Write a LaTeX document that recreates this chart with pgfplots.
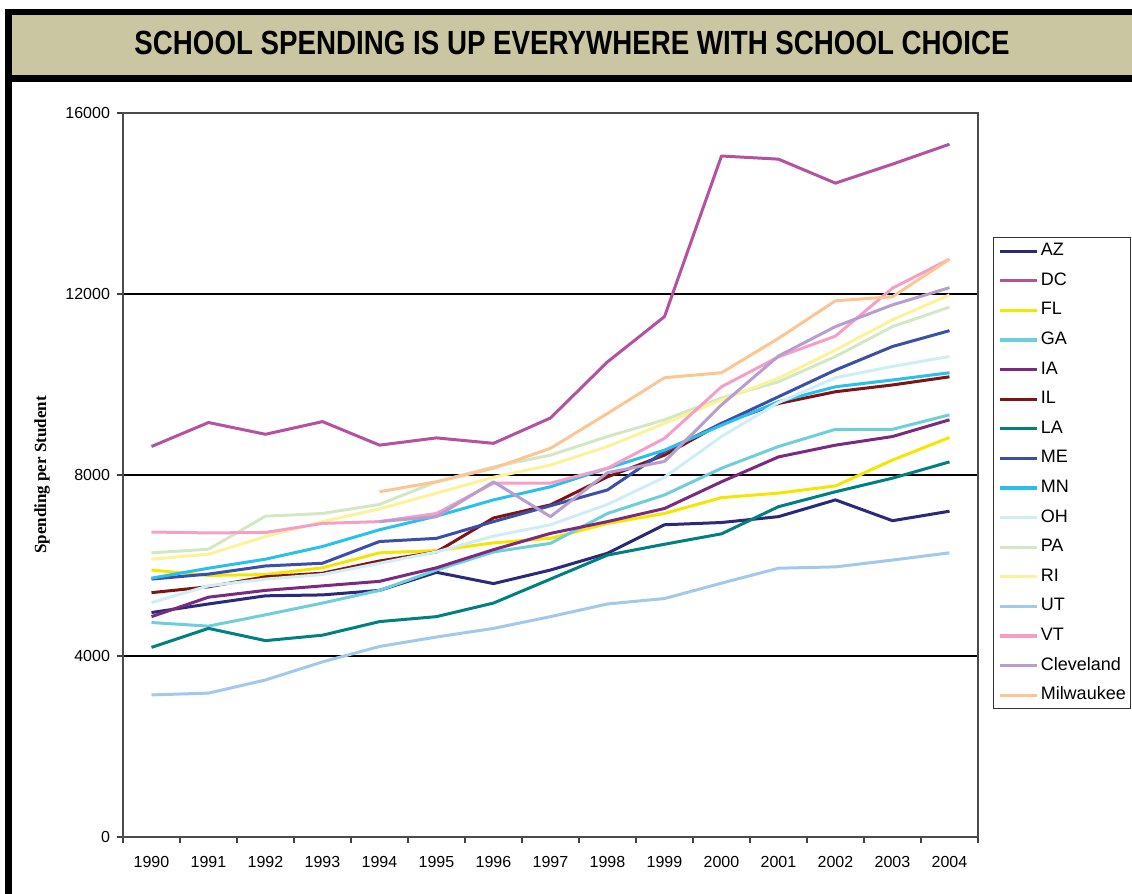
\documentclass[border=0pt]{standalone}
\usepackage{pgfplots}
\pgfplotsset{compat=1.18}
\usepackage{pgfplotstable}
\usepackage{graphicx}
\usepackage{fontspec}
\setmainfont{Liberation Sans}
\newfontfamily\serifface{Liberation Serif}

\definecolor{khaki}{RGB}{202,198,162}
\definecolor{cAZ}{RGB}{43,42,122}
\definecolor{cDC}{RGB}{181,81,159}
\definecolor{cFL}{RGB}{244,230,0}
\definecolor{cGA}{RGB}{110,206,218}
\definecolor{cIA}{RGB}{123,42,127}
\definecolor{cIL}{RGB}{127,20,22}
\definecolor{cLA}{RGB}{0,128,128}
\definecolor{cME}{RGB}{60,79,168}
\definecolor{cMN}{RGB}{42,192,238}
\definecolor{cOH}{RGB}{208,237,245}
\definecolor{cPA}{RGB}{210,232,196}
\definecolor{cRI}{RGB}{251,242,154}
\definecolor{cUT}{RGB}{162,200,236}
\definecolor{cVT}{RGB}{245,158,198}
\definecolor{cCL}{RGB}{184,157,207}
\definecolor{cMW}{RGB}{253,197,148}

\pgfplotstableread{
x AZ DC FL GA IA IL LA ME MN OH PA RI UT VT CL MW
0 4960 8630 5900 4740 4870 5400 4190 5700 5720 5180 6280 6140 3140 6740 nan nan
1 5150 9160 5780 4660 5300 5530 4610 5810 5940 5550 6360 6250 3180 6720 nan nan
2 5330 8900 5800 4910 5450 5750 4340 5990 6140 5700 7090 6640 3470 6730 nan nan
3 5350 9180 5950 5170 5550 5830 4460 6050 6420 5800 7150 6970 3870 6930 nan nan
4 5450 8660 6280 5450 5650 6100 4760 6530 6790 6050 7350 7250 4210 6970 6970 7630
5 5850 8820 6330 5900 5950 6300 4870 6600 7090 6300 7850 7600 4420 7150 7080 7850
6 5600 8700 6500 6300 6350 7050 5170 6970 7450 6650 8180 7950 4610 7820 7850 8150
7 5900 9260 6600 6490 6710 7340 5700 7320 7740 6900 8440 8220 4870 7820 7080 8590
8 6270 10500 6930 7150 6970 7960 6230 7670 8150 7350 8850 8630 5150 8150 8050 9360
9 6900 11500 7150 7560 7260 8440 6470 8520 8550 7950 9220 9140 5270 8810 8300 10150
10 6950 15050 7500 8150 7850 9140 6700 9140 9100 8850 9700 9660 5610 9950 9550 10260
11 7080 14980 7600 8630 8400 9580 7300 9730 9620 9600 10060 10140 5940 10610 10630 11020
12 7450 14450 7760 9010 8660 9840 7630 10320 9950 10150 10620 10760 5970 11070 11280 11850
13 6990 14870 8330 9010 8850 9990 7930 10840 10100 10400 11280 11430 6120 12130 11760 11940
14 7200 15310 8830 9330 9220 10170 8290 11190 10260 10620 11710 11980 6280 12770 12140 12770
}\data

\begin{document}
\begin{tikzpicture}
\path[use as bounding box] (0,0) rectangle (566pt,-447pt);
% frame and banner
\fill[khaki] (6pt,-7.5pt) rectangle (566pt,-37.5pt);
\fill[black] (2.5pt,-4.5pt) rectangle (566pt,-7.5pt);
\fill[black] (2.5pt,-37.5pt) rectangle (566pt,-41pt);
\fill[black] (2.5pt,-4.5pt) rectangle (6pt,-447pt);
\node at (286pt,-21.7pt) {\resizebox{437.5pt}{11.7pt}{\bfseries SCHOOL SPENDING IS UP EVERYWHERE WITH SCHOOL CHOICE}};

\begin{axis}[
  scale only axis,
  width=427.5pt, height=362pt,
  at={(61.5pt,-418.5pt)}, anchor=south west,
  xmin=-0.5, xmax=14.5, ymin=0, ymax=16000,
  xtick={0,...,14},
  xticklabels={1990,1991,1992,1993,1994,1995,1996,1997,1998,1999,2000,2001,2002,2003,2004},
  major x tick style={draw=none},
  minor xtick={-0.5,0.5,...,14.5},
  ytick={0,4000,8000,12000,16000},
  ymajorgrids,
  grid style={black, line width=0.7pt},
  tick align=outside, tick pos=left,
  major tick length=3pt, minor tick length=3pt,
  tick style={black!75, line width=0.6pt},
  axis line style={black!70, line width=0.6pt},
  scaled y ticks=false,
  /pgf/number format/assume math mode=true,
  yticklabel style={/pgf/number format/1000 sep={}, font=\fontsize{8}{9}\selectfont},
  xticklabel style={font=\fontsize{8}{9}\selectfont, yshift=-3pt},
  ylabel={\serifface\bfseries Spending per Student},
  ylabel style={at={(axis description cs:-0.0947,0.5)}, anchor=center, font=\fontsize{8.5}{10}\selectfont},
  unbounded coords=jump,
  every axis plot/.append style={line width=1.5pt, line join=round},
  legend cell align=left,
  legend image code/.code={\draw[#1, line width=1.6pt] (0pt,0pt) -- (18.5pt,0pt);},
  legend style={at={(axis description cs:1.0175,0.8287)}, anchor=north west,
     draw=black!80, line width=0.6pt, font=\fontsize{9}{10}\selectfont,
     row sep=6.3pt, inner sep=2.5pt,
     nodes={inner sep=0pt, text height=6.5pt, text depth=2pt},
     /tikz/every odd column/.style={column sep=1pt}},
]
\addplot[cAZ] table[x=x,y=AZ]{\data}; \addlegendentry{AZ}
\addplot[cDC] table[x=x,y=DC]{\data}; \addlegendentry{DC}
\addplot[cFL] table[x=x,y=FL]{\data}; \addlegendentry{FL}
\addplot[cGA] table[x=x,y=GA]{\data}; \addlegendentry{GA}
\addplot[cIA] table[x=x,y=IA]{\data}; \addlegendentry{IA}
\addplot[cIL] table[x=x,y=IL]{\data}; \addlegendentry{IL}
\addplot[cLA] table[x=x,y=LA]{\data}; \addlegendentry{LA}
\addplot[cME] table[x=x,y=ME]{\data}; \addlegendentry{ME}
\addplot[cMN] table[x=x,y=MN]{\data}; \addlegendentry{MN}
\addplot[cOH] table[x=x,y=OH]{\data}; \addlegendentry{OH}
\addplot[cPA] table[x=x,y=PA]{\data}; \addlegendentry{PA}
\addplot[cRI] table[x=x,y=RI]{\data}; \addlegendentry{RI}
\addplot[cUT] table[x=x,y=UT]{\data}; \addlegendentry{UT}
\addplot[cVT] table[x=x,y=VT]{\data}; \addlegendentry{VT}
\addplot[cCL] table[x=x,y=CL]{\data}; \addlegendentry{Cleveland}
\addplot[cMW] table[x=x,y=MW]{\data}; \addlegendentry{Milwaukee}
\end{axis}
\end{tikzpicture}
\end{document}
